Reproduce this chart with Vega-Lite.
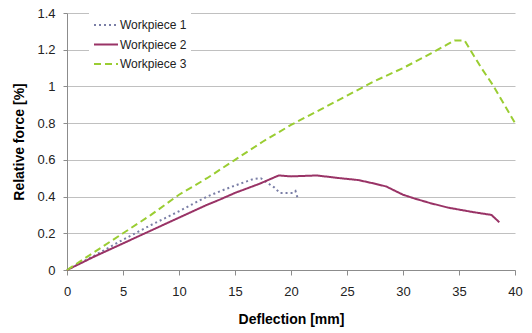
{
  "$schema": "https://vega.github.io/schema/vega-lite/v6.json",
  "width": 448,
  "height": 257,
  "autosize": {"type": "none"},
  "padding": {"left": 67, "top": 13, "right": 17, "bottom": 63},
  "background": "white",
  "config": {
    "view": {"stroke": null},
    "font": "Liberation Sans",
    "axis": {
      "labelFont": "Liberation Sans",
      "titleFont": "Liberation Sans",
      "labelFontSize": 13,
      "titleFontSize": 14,
      "labelColor": "#222222",
      "titleColor": "#000000",
      "titleFontWeight": "bold",
      "domainColor": "#8c8c8c",
      "tickColor": "#8c8c8c",
      "gridColor": "#c0c0c0",
      "labelFlush": false
    }
  },
  "data": {
    "values": [
      {"series": "Workpiece 1", "x": 0, "y": 0},
      {"series": "Workpiece 1", "x": 2.5, "y": 0.08},
      {"series": "Workpiece 1", "x": 5, "y": 0.165},
      {"series": "Workpiece 1", "x": 7.5, "y": 0.245},
      {"series": "Workpiece 1", "x": 10, "y": 0.32},
      {"series": "Workpiece 1", "x": 12.5, "y": 0.4},
      {"series": "Workpiece 1", "x": 13.7, "y": 0.43},
      {"series": "Workpiece 1", "x": 15, "y": 0.46},
      {"series": "Workpiece 1", "x": 16.6, "y": 0.495},
      {"series": "Workpiece 1", "x": 17.3, "y": 0.5},
      {"series": "Workpiece 1", "x": 18.0, "y": 0.47},
      {"series": "Workpiece 1", "x": 18.5, "y": 0.45},
      {"series": "Workpiece 1", "x": 19.0, "y": 0.42},
      {"series": "Workpiece 1", "x": 20.2, "y": 0.42},
      {"series": "Workpiece 1", "x": 20.4, "y": 0.43},
      {"series": "Workpiece 1", "x": 20.6, "y": 0.39},
      {"series": "Workpiece 2", "x": 0, "y": 0},
      {"series": "Workpiece 2", "x": 2.5, "y": 0.075},
      {"series": "Workpiece 2", "x": 5, "y": 0.145},
      {"series": "Workpiece 2", "x": 7.5, "y": 0.215},
      {"series": "Workpiece 2", "x": 10, "y": 0.285},
      {"series": "Workpiece 2", "x": 12.5, "y": 0.355},
      {"series": "Workpiece 2", "x": 13.7, "y": 0.385},
      {"series": "Workpiece 2", "x": 15, "y": 0.42},
      {"series": "Workpiece 2", "x": 17.2, "y": 0.47},
      {"series": "Workpiece 2", "x": 18.9, "y": 0.515},
      {"series": "Workpiece 2", "x": 20, "y": 0.51},
      {"series": "Workpiece 2", "x": 22.3, "y": 0.515},
      {"series": "Workpiece 2", "x": 24.4, "y": 0.5},
      {"series": "Workpiece 2", "x": 26, "y": 0.49},
      {"series": "Workpiece 2", "x": 27.5, "y": 0.47},
      {"series": "Workpiece 2", "x": 28.5, "y": 0.455},
      {"series": "Workpiece 2", "x": 30, "y": 0.41},
      {"series": "Workpiece 2", "x": 31, "y": 0.39},
      {"series": "Workpiece 2", "x": 32.4, "y": 0.365},
      {"series": "Workpiece 2", "x": 34, "y": 0.34},
      {"series": "Workpiece 2", "x": 36.3, "y": 0.315},
      {"series": "Workpiece 2", "x": 37.9, "y": 0.3},
      {"series": "Workpiece 2", "x": 38.6, "y": 0.26},
      {"series": "Workpiece 3", "x": 0, "y": 0},
      {"series": "Workpiece 3", "x": 2.5, "y": 0.1},
      {"series": "Workpiece 3", "x": 5, "y": 0.2},
      {"series": "Workpiece 3", "x": 7.5, "y": 0.3},
      {"series": "Workpiece 3", "x": 10, "y": 0.41},
      {"series": "Workpiece 3", "x": 12.5, "y": 0.5},
      {"series": "Workpiece 3", "x": 15, "y": 0.6},
      {"series": "Workpiece 3", "x": 17.5, "y": 0.7},
      {"series": "Workpiece 3", "x": 20, "y": 0.79},
      {"series": "Workpiece 3", "x": 22.5, "y": 0.87},
      {"series": "Workpiece 3", "x": 25, "y": 0.95},
      {"series": "Workpiece 3", "x": 27.5, "y": 1.03},
      {"series": "Workpiece 3", "x": 30, "y": 1.1},
      {"series": "Workpiece 3", "x": 32.5, "y": 1.18},
      {"series": "Workpiece 3", "x": 34, "y": 1.23},
      {"series": "Workpiece 3", "x": 34.6, "y": 1.25},
      {"series": "Workpiece 3", "x": 35.5, "y": 1.25},
      {"series": "Workpiece 3", "x": 37, "y": 1.1},
      {"series": "Workpiece 3", "x": 38, "y": 1.01},
      {"series": "Workpiece 3", "x": 40, "y": 0.8}
    ]
  },
  "mark": {"type": "line", "strokeWidth": 2},
  "encoding": {
    "x": {
      "field": "x",
      "type": "quantitative",
      "title": "Deflection [mm]",
      "scale": {"domain": [0, 40], "nice": false},
      "axis": {"values": [0, 5, 10, 15, 20, 25, 30, 35, 40], "grid": false, "tickSize": 5, "labelPadding": 10, "titlePadding": 14}
    },
    "y": {
      "field": "y",
      "type": "quantitative",
      "title": "Relative force [%]",
      "scale": {"domain": [0, 1.4], "nice": false},
      "axis": {"values": [0, 0.2, 0.4, 0.6, 0.8, 1, 1.2, 1.4], "format": ".1~f", "tickSize": 4, "labelPadding": 8, "titlePadding": 10, "grid": true}
    },
    "color": {
      "field": "series",
      "type": "nominal",
      "scale": {"domain": ["Workpiece 1", "Workpiece 2", "Workpiece 3"], "range": ["#7a7ea6", "#993366", "#9acd32"]},
      "legend": {
        "title": null,
        "orient": "none",
        "legendX": 22,
        "legendY": -5,
        "fillColor": "white",
        "padding": 4,
        "symbolType": "stroke",
        "symbolSize": 576,
        "symbolStrokeWidth": 2,
        "labelFontSize": 12,
        "labelFont": "Liberation Sans",
        "labelColor": "#222222",
        "rowPadding": 0.5,
        "labelOffset": 1
      }
    },
    "strokeDash": {
      "field": "series",
      "type": "nominal",
      "scale": {"domain": ["Workpiece 1", "Workpiece 2", "Workpiece 3"], "range": [[2, 3], [1, 0], [7, 4]]},
      "legend": null
    }
  }
}
